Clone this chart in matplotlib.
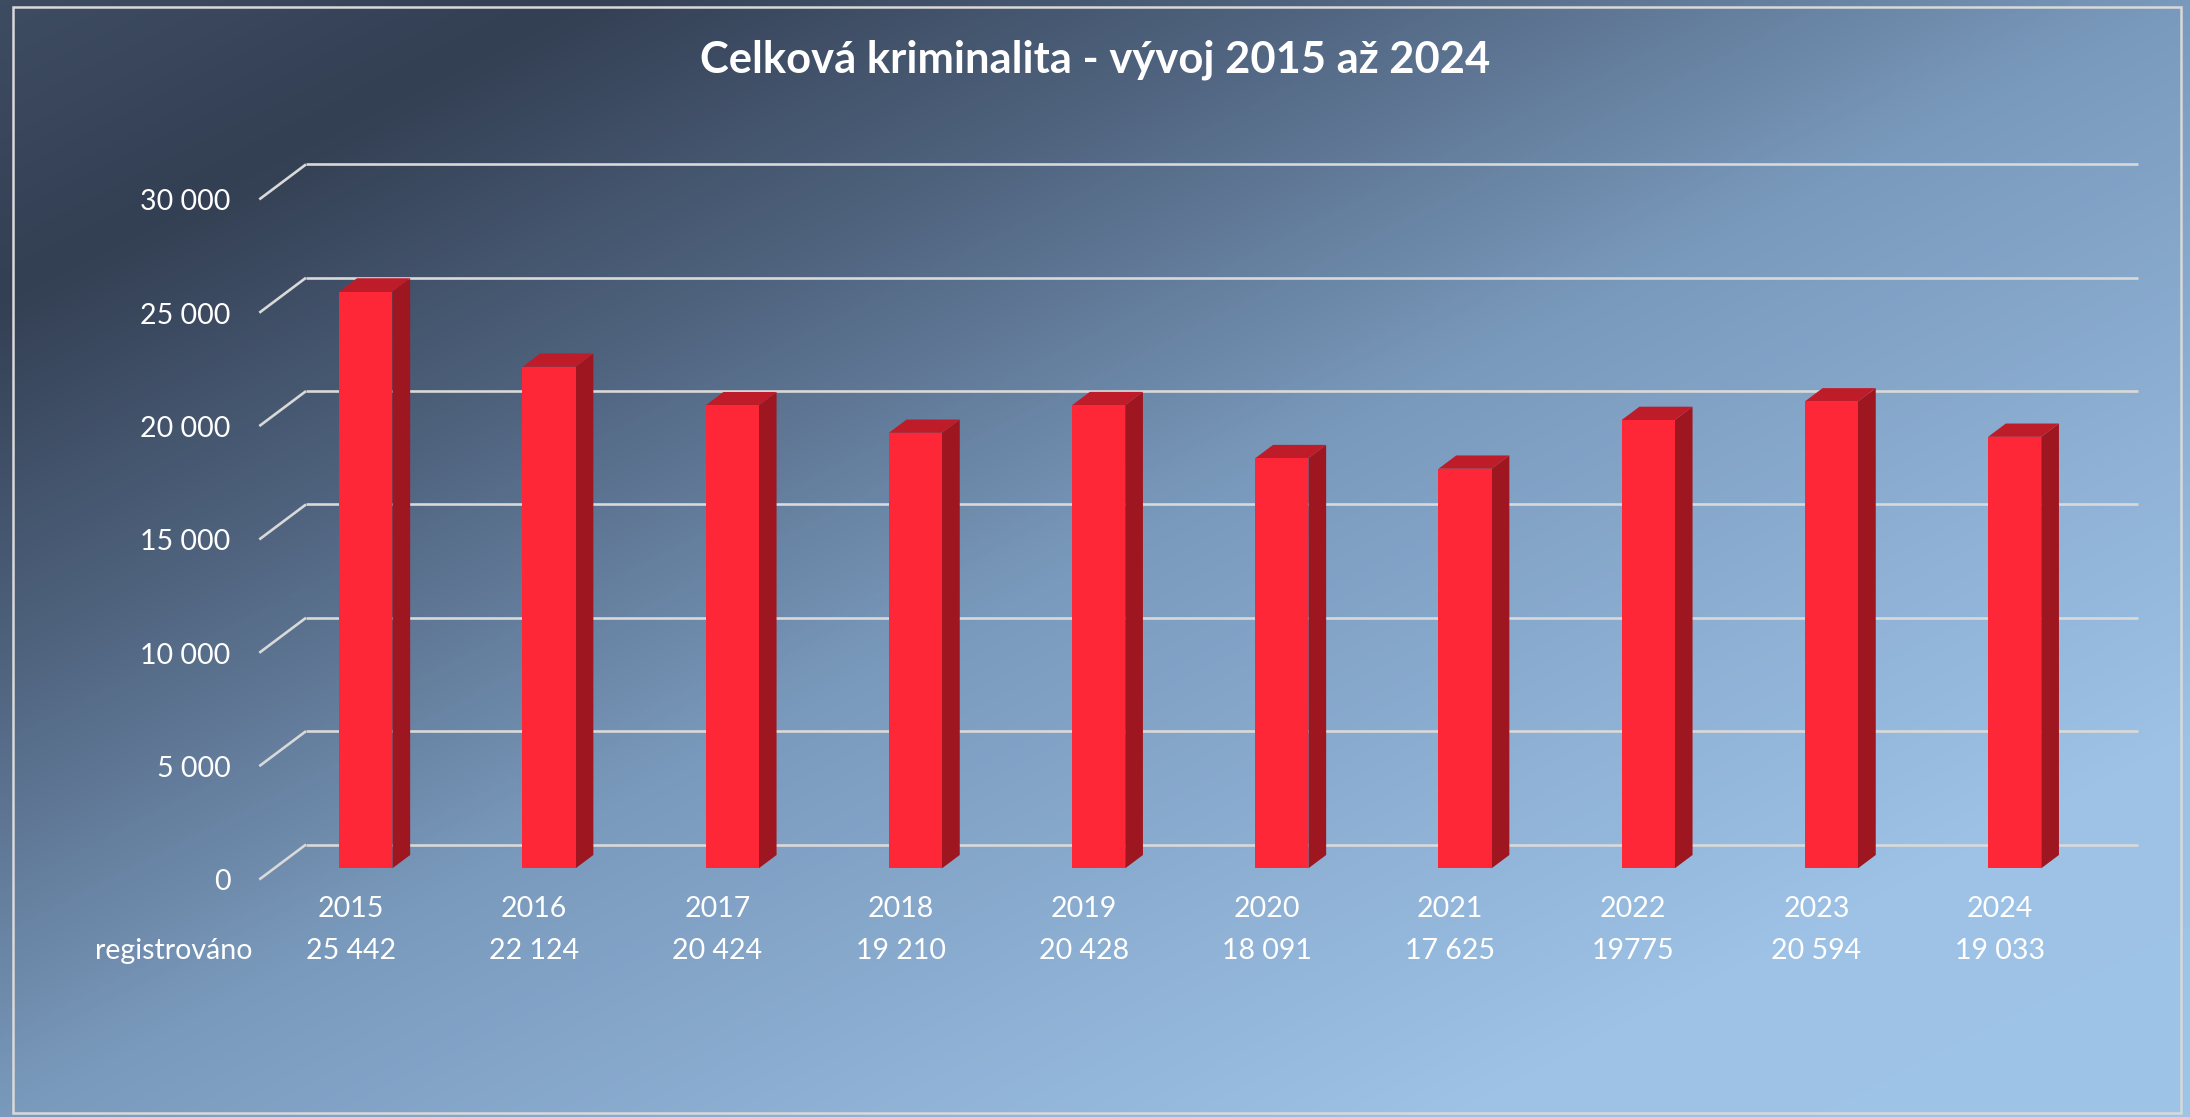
import numpy as np
import matplotlib
matplotlib.use("Agg")
import matplotlib.pyplot as plt
from matplotlib.colors import LinearSegmentedColormap
from matplotlib.patches import Rectangle

# ---------------- data ----------------
title = "Celková kriminalita - vývoj 2015 až 2024"
years = ["2015", "2016", "2017", "2018", "2019", "2020", "2021", "2022", "2023", "2024"]
values = [25442, 22124, 20424, 19210, 20428, 18091, 17625, 19775, 20594, 19033]
value_labels = ["25 442", "22 124", "20 424", "19 210", "20 428",
                "18 091", "17 625", "19775", "20 594", "19 033"]
row_label = "registrováno"
y_ticks = [0, 5000, 10000, 15000, 20000, 25000, 30000]
y_tick_labels = ["0", "5 000", "10 000", "15 000", "20 000", "25 000", "30 000"]

# ---------------- style ----------------
W, H, DPI = 2190, 1117, 100
plt.rcParams['font.family'] = ['Lato', 'DejaVu Sans']
WHITE = "white"
GRID = "#d9d9d9"
FRONT = "#fe2737"
SIDE = "#9e1620"
TOP = "#bf1c2a"
FS = 20.5

fig = plt.figure(figsize=(W / DPI, H / DPI), dpi=DPI)

# background gradient
bg = fig.add_axes([0, 0, 1, 1])
bg.set_axis_off()
yy, xx = np.mgrid[0:H:2, 0:W:2]
s = (xx / W + yy / H) / 2.0
cmap = LinearSegmentedColormap.from_list(
    "bg", [(0.0, "#3e4c62"), (0.13, "#333f53"), (0.30, "#50647f"),
           (0.50, "#7a9abd"), (0.83, "#9dc2e6"), (1.0, "#9ec4e7")])
bg.imshow(s, cmap=cmap, vmin=0, vmax=1, extent=[0, W, H, 0],
          aspect="auto", interpolation="bilinear")
bg.set_xlim(0, W)
bg.set_ylim(H, 0)
bg.add_patch(Rectangle((13, 7), 2168, 1106, fill=False, ec=GRID, lw=1.8))

# main axes = back wall of the 3D chart
ax = fig.add_axes([306 / W, 1 - 844.5 / H, (2138 - 306) / W, (844.5 - 164.4) / H])
ax.set_xlim(-0.5, len(values) - 0.5)
ax.set_ylim(0, 30000)
ax.set_axis_off()
ax.patch.set_alpha(0)

# depth vector (back -> front) in pixels, converted to data units
p0 = ax.transData.transform((0, 0))
p1 = ax.transData.transform((1, 1))
sx, sy = p1 - p0
fx, fy = -46.7 / sx, -35.0 / sy


def proj(x, v, d):
    """d = depth (0 front, 1 back)"""
    return (x + (1 - d) * fx, v + (1 - d) * fy)


# gridlines on back wall + left wall diagonals
for v in y_ticks:
    ax.plot([-0.5, len(values) - 0.5], [v, v], color=GRID, lw=1.9, zorder=1,
            clip_on=False, solid_capstyle="butt")
    a = proj(-0.5, v, 1.0)
    b = proj(-0.5, v, 0.0)
    ax.plot([a[0], b[0]], [a[1], b[1]], color=GRID, lw=1.9, zorder=1,
            clip_on=False, solid_capstyle="butt")

# bars
bw = 0.29
d_front, d_back = 0.32, 0.70
x = np.arange(len(values))
ax.bar(x + (1 - d_front) * fx, values, width=bw, bottom=(1 - d_front) * fy,
       color=FRONT, zorder=3, clip_on=False, linewidth=0)
for i, v in enumerate(values):
    xr = i + bw / 2
    xl = i - bw / 2
    side = [proj(xr, 0, d_front), proj(xr, 0, d_back), proj(xr, v, d_back), proj(xr, v, d_front)]
    top = [proj(xl, v, d_front), proj(xr, v, d_front), proj(xr, v, d_back), proj(xl, v, d_back)]
    ax.fill(*zip(*side), color=SIDE, zorder=2.5, clip_on=False, lw=0)
    ax.fill(*zip(*top), color=TOP, zorder=2.5, clip_on=False, lw=0)

# y tick labels (at front end of left-wall diagonals)
for v, lab in zip(y_ticks, y_tick_labels):
    ax.annotate(lab, xy=proj(-0.5, v, 0.0), xytext=(-29, -11),
                textcoords="offset pixels", ha="right", va="baseline",
                color=WHITE, fontsize=FS, annotation_clip=False)

# category labels & data table row
for i, (yr, vl) in enumerate(zip(years, value_labels)):
    ax.annotate(yr, xy=proj(i, 0, 0.0), xytext=(0, -38),
                textcoords="offset pixels", ha="center", va="baseline",
                color=WHITE, fontsize=FS, annotation_clip=False)
    ax.annotate(vl, xy=proj(i, 0, 0.0), xytext=(0, -80),
                textcoords="offset pixels", ha="center", va="baseline",
                color=WHITE, fontsize=FS, annotation_clip=False)
ax.annotate(row_label, xy=proj(-0.5, 0, 0.0), xytext=(-7, -80),
            textcoords="offset pixels", ha="right", va="baseline",
            color=WHITE, fontsize=FS, annotation_clip=False)

# title
t = fig.text(0.5, 1 - 73 / H, title, ha="center", va="baseline",
             color=WHITE, fontsize=28, fontweight="bold")
fig.canvas.draw()
bb = t.get_window_extent()
t.set_fontsize(28 * 790.0 / bb.width)

fig.savefig("out.png", dpi=DPI)
